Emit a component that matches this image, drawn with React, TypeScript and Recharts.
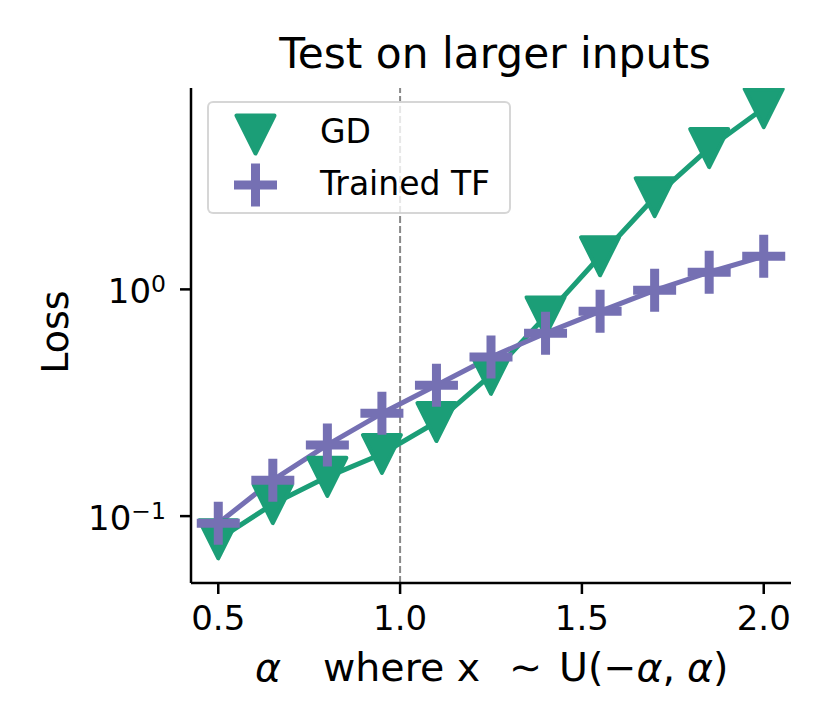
import { Legend, Line, LineChart, ReferenceLine, XAxis, YAxis } from 'recharts'

// alpha values (x) and loss per method
const alphas = [0.5, 0.65, 0.8, 0.95, 1.1, 1.25, 1.4, 1.55, 1.7, 1.85, 2.0]
const gdLoss = [0.079, 0.113, 0.149, 0.188, 0.26, 0.42, 0.76, 1.4, 2.55, 4.2, 6.3]
const tfLoss = [0.093, 0.144, 0.206, 0.284, 0.378, 0.503, 0.641, 0.8, 0.99, 1.19, 1.4]

const xTicks = [0.5, 1.0, 1.5, 2.0]
const yTicks = [0.1, 1]
const yTickExponents: Record<string, string> = { '0.1': '−1', '1': '0' }

const GREEN = '#1b9e77'
const PURPLE = '#7570b3'
const FONT = '"DejaVu Sans", sans-serif'

const data = alphas.map((a, i) => ({ alpha: a, gd: gdLoss[i], tf: tfLoss[i] }))

function Triangle({ cx, cy, r = 19 }: { cx: number; cy: number; r?: number }) {
  return (
    <path
      d={`M${cx - r},${cy - r}L${cx + r},${cy - r}L${cx},${cy + r}Z`}
      fill={GREEN}
      stroke={GREEN}
      strokeWidth={4}
      strokeLinejoin="round"
    />
  )
}

function Plus({ cx, cy, r = 21.5 }: { cx: number; cy: number; r?: number }) {
  return <path d={`M${cx - r},${cy}H${cx + r}M${cx},${cy - r}V${cy + r}`} stroke={PURPLE} strokeWidth={9} fill="none" />
}

const XTick = ({ x, y, payload }: any) => (
  <text x={x} y={y} dy={36} textAnchor="middle" fontSize={34} fontFamily={FONT} fill="#000">
    {Number(payload.value).toFixed(1)}
  </text>
)

const YTick = ({ x, y, payload }: any) => (
  <text x={x - 14} y={y} dy={14} textAnchor="end" fontSize={34} fontFamily={FONT} fill="#000">
    <tspan>10</tspan>
    <tspan dy={-11} fontSize={23.5}>
      {yTickExponents[String(payload.value)]}
    </tspan>
  </text>
)

const XLabel = () => (
  <text y={681} fontSize={39.5} fontFamily={FONT} fill="#000">
    <tspan x={255} fontStyle="italic">α</tspan>
    <tspan x={323}>where x</tspan>
    <tspan x={509}>∼</tspan>
    <tspan x={559}>U(−</tspan>
    <tspan fontStyle="italic">α</tspan>
    <tspan>,</tspan>
    <tspan x={687} fontStyle="italic">α</tspan>
    <tspan>)</tspan>
  </text>
)

const YLabel = () => (
  <text
    x={68}
    y={332}
    transform="rotate(-90, 68, 332)"
    textAnchor="middle"
    fontSize={38}
    fontFamily={FONT}
    fill="#000"
  >
    Loss
  </text>
)

const LegendBox = () => (
  <div
    style={{
      width: 304,
      height: 113,
      boxSizing: 'border-box',
      border: '2px solid rgba(204,204,204,0.8)',
      borderRadius: 6,
      background: 'rgba(255,255,255,0.8)',
    }}
  >
    <svg width={300} height={109} style={{ display: 'block' }}>
      <Triangle cx={46.5} cy={31.5} />
      <text x={111} y={40} fontSize={33} fontFamily={FONT} fill="#000">
        GD
      </text>
      <Plus cx={46.5} cy={82} />
      <text x={111} y={92} fontSize={33} fontFamily={FONT} fill="#000">
        Trained TF
      </text>
    </svg>
  </div>
)

export default function App() {
  return (
    <div style={{ position: 'absolute', left: 0, top: 0, width: 830, height: 727, background: '#fff' }}>
      <LineChart width={830} height={727} data={data} margin={{ top: 88, right: 39, bottom: 84, left: 91 }}>
        <XAxis
          type="number"
          dataKey="alpha"
          domain={[0.425, 2.075]}
          ticks={xTicks}
          allowDataOverflow
          height={60}
          tickSize={11}
          tickMargin={0}
          tick={<XTick />}
          axisLine={{ stroke: '#000', strokeWidth: 2.5 }}
          tickLine={{ stroke: '#000', strokeWidth: 2.5 }}
          label={{ content: <XLabel /> }}
        />
        <YAxis
          type="number"
          scale="log"
          domain={[0.0507, 7.73]}
          ticks={yTicks}
          allowDataOverflow
          width={100}
          tickSize={11}
          tickMargin={0}
          tick={<YTick />}
          axisLine={{ stroke: '#000', strokeWidth: 2.5 }}
          tickLine={{ stroke: '#000', strokeWidth: 2.5 }}
          label={{ content: <YLabel /> }}
        />
        <ReferenceLine x={1} stroke="#888" strokeWidth={2} strokeDasharray="7 3" />
        <Line
          dataKey="gd"
          name="GD"
          stroke={GREEN}
          strokeWidth={5}
          strokeLinejoin="round"
          isAnimationActive={false}
          dot={(p: any) => <Triangle key={`gd-${p.index}`} cx={p.cx} cy={p.cy} />}
          activeDot={false}
        />
        <Line
          dataKey="tf"
          name="Trained TF"
          stroke={PURPLE}
          strokeWidth={5}
          strokeLinejoin="round"
          isAnimationActive={false}
          dot={(p: any) => <Plus key={`tf-${p.index}`} cx={p.cx} cy={p.cy} />}
          activeDot={false}
        />
        <Legend
          layout="vertical"
          align="center"
          verticalAlign="middle"
          content={<LegendBox />}
          wrapperStyle={{ left: 207, top: 101, width: 304, height: 113 }}
        />
      </LineChart>
      <svg width={830} height={100} style={{ position: 'absolute', left: 0, top: 0, pointerEvents: 'none' }}>
        <text x={495} y={68} textAnchor="middle" fontSize={42.3} fontFamily={FONT} fill="#000">
          Test on larger inputs
        </text>
      </svg>
    </div>
  )
}
